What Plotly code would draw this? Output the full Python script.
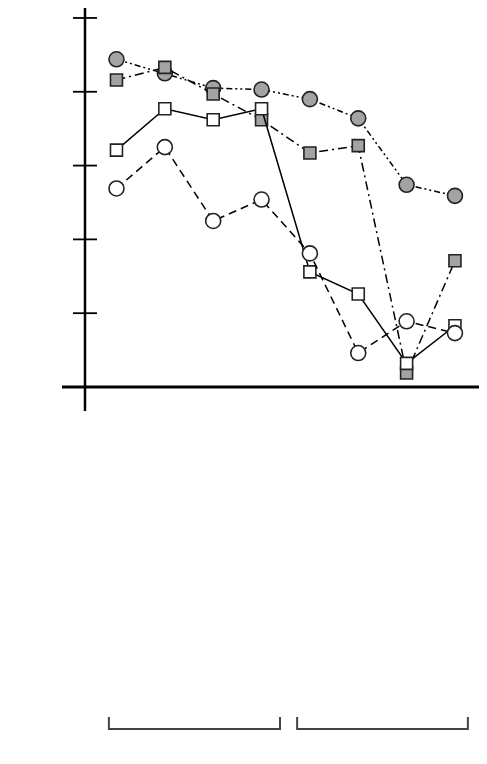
import plotly.graph_objects as go

# Data (y in axis units, ticks at 1..5)
x_idx = [0, 1, 2, 3, 4, 5, 6, 7]
gray_circles = [4.44, 4.25, 4.05, 4.03, 3.90, 3.64, 2.74, 2.59]
gray_squares = [4.16, 4.33, 3.97, 3.62, 3.17, 3.27, 0.19, 1.71]
white_squares = [3.21, 3.77, 3.62, 3.77, 1.56, 1.26, 0.32, 0.83]
white_circles = [2.69, 3.25, 2.25, 2.54, 1.81, 0.46, 0.89, 0.73]
y_ticks = [1, 2, 3, 4, 5]
groups = [(0.060, 0.490), (0.533, 0.962)]

GRAY = "#a3a3a3"
EDGE = "#222222"

fig = go.Figure()

def add(y, symbol, fill, dash, size):
    fig.add_trace(go.Scatter(
        x=x_idx, y=y, mode="lines+markers", cliponaxis=False,
        line=dict(color="black", width=1.5, dash=dash),
        marker=dict(symbol=symbol, size=size, color=fill,
                    line=dict(color=EDGE, width=1.6)),
        showlegend=False, hoverinfo="skip"))

add(gray_circles, "circle", GRAY, "6px,3px,2px,3px,2px,3px", 15)
add(gray_squares, "square", GRAY, "9px,4px,2px,4px", 12)
add(white_squares, "square", "white", "solid", 12)
add(white_circles, "circle", "white", "8px,5px", 15)

PH = 379.0  # plot height in px
PW = 398.0  # plot width in px

shapes = []
# y axis line (extends below the x axis)
shapes.append(dict(type="line", xref="paper", yref="paper", x0=0, x1=0,
                   y0=-24 / PH, y1=1.0, line=dict(color="black", width=2.5)))
# x axis line (extends left of y axis)
shapes.append(dict(type="line", xref="paper", yref="paper", x0=-23 / PW, x1=1.0,
                   y0=0, y1=0, line=dict(color="black", width=3)))
# crossing ticks on the y axis
for v in y_ticks:
    shapes.append(dict(type="line", xref="paper", yref="y", x0=-12 / PW, x1=12 / PW,
                       y0=v, y1=v, line=dict(color="black", width=1.8)))
# group brackets at the bottom
top = (387 - 717) / PH
bot = (387 - 729) / PH
for a, b in groups:
    shapes.append(dict(type="path", xref="paper", yref="paper",
                       path=f"M {a},{top} L {a},{bot} L {b},{bot} L {b},{top}",
                       line=dict(color="#444444", width=2)))

fig.update_layout(
    width=479, height=756,
    margin=dict(l=77, r=4, t=0, b=377, pad=0),
    paper_bgcolor="white", plot_bgcolor="white",
    xaxis=dict(range=[-0.651, 7.58], visible=False, fixedrange=True),
    yaxis=dict(range=[0, 5.135], visible=False, fixedrange=True),
    shapes=shapes,
)

fig.write_html("out.html")
